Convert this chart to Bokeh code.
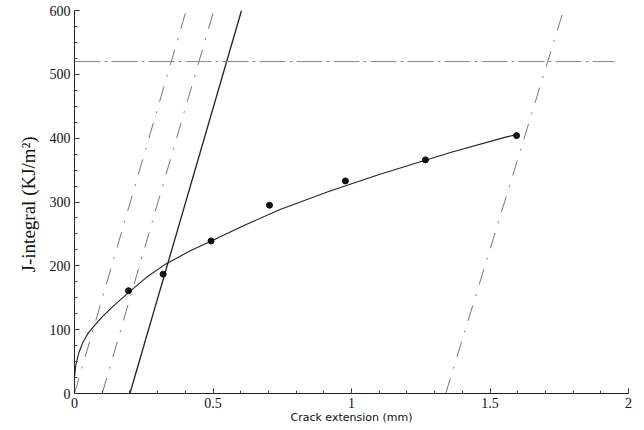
from bokeh.plotting import figure
from bokeh.models import Range1d, SingleIntervalTicker
from bokeh.embed import file_html
from bokeh.resources import INLINE

# measured J-R data points
crack_ext = [0.195, 0.32, 0.493, 0.704, 0.978, 1.267, 1.596]
j_values = [161, 187, 239, 295, 333, 366, 404]

# fitted J-R curve
curve_x = [0.0, 0.005, 0.015, 0.03, 0.05, 0.075, 0.1, 0.14, 0.2, 0.26, 0.33,
           0.42, 0.5, 0.6, 0.74, 0.92, 1.1, 1.36, 1.56, 1.6]
curve_y = [25, 45, 63, 80, 95, 108, 120, 137, 160, 182, 203,
           224, 240, 261, 288, 317, 343, 378, 402, 406]

# 0.2 mm offset (solid) line
offset_x = [0.2, 0.603]
offset_y = [0, 600]

# dash-dot construction lines (blunting, 0.1 mm, 1.35 mm offsets)
cons_x0 = [0.0, 0.1, 1.34]
cons_x1 = [0.403, 0.503, 1.765]
cons_y0 = [0, 0, 0]
cons_y1 = [600, 600, 600]

# J limit line
jmax = 520
jmax_x = [0.0, 1.95]

x_ticks = [0, 0.5, 1, 1.5, 2]
x_labels = ["0", "0.5", "1", "1.5", "2"]

p = figure(width=640, height=430, x_range=Range1d(0, 2), y_range=Range1d(0, 600),
           output_backend="svg", toolbar_location=None,
           min_border_left=74, min_border_right=12, min_border_top=10, min_border_bottom=37)
p.outline_line_color = None
p.xgrid.visible = False
p.ygrid.visible = False
p.background_fill_color = "white"

p.line(curve_x, curve_y, line_color="#222222", line_width=1.1)
p.line(offset_x, offset_y, line_color="#222222", line_width=1.3)
p.segment(x0=cons_x0, y0=cons_y0, x1=cons_x1, y1=cons_y1, line_color="#777777",
          line_width=1, line_dash="16 10 2 10")
p.line(jmax_x, [jmax, jmax], line_color="#888888", line_width=1, line_dash="26 4 3 4")
p.scatter(crack_ext, j_values, size=6, color="#111111")

p.xaxis.ticker = SingleIntervalTicker(interval=0.5, num_minor_ticks=5)
p.xaxis.major_label_overrides = {t: l for t, l in zip(x_ticks, x_labels)}
p.yaxis.ticker = SingleIntervalTicker(interval=100, num_minor_ticks=4)

for ax in (p.xaxis[0], p.yaxis[0]):
    ax.axis_line_color = "#222222"
    ax.axis_line_width = 1
    ax.major_tick_in = 5
    ax.major_tick_out = 0
    ax.minor_tick_in = 3
    ax.minor_tick_out = 0
    ax.major_tick_line_color = "#222222"
    ax.minor_tick_line_color = "#444444"
    ax.major_label_text_font = "Liberation Serif"
    ax.major_label_text_font_size = "14px"
    ax.major_label_text_color = "#111111"
    ax.major_label_standoff = 4

p.xaxis.axis_label = "Crack extension (mm)"
p.xaxis.axis_label_text_font = "DejaVu Sans"
p.xaxis.axis_label_text_font_size = "11px"
p.xaxis.axis_label_text_font_style = "normal"
p.xaxis.axis_label_text_color = "#111111"
p.xaxis.axis_label_standoff = 0

p.yaxis.axis_label = "J-integral  (KJ/m²)"
p.yaxis.axis_label_text_font = "Liberation Serif"
p.yaxis.axis_label_text_font_size = "19px"
p.yaxis.axis_label_text_font_style = "normal"
p.yaxis.axis_label_text_color = "#111111"
p.yaxis.axis_label_standoff = 8

open("out.html", "w").write(file_html(p, INLINE))
